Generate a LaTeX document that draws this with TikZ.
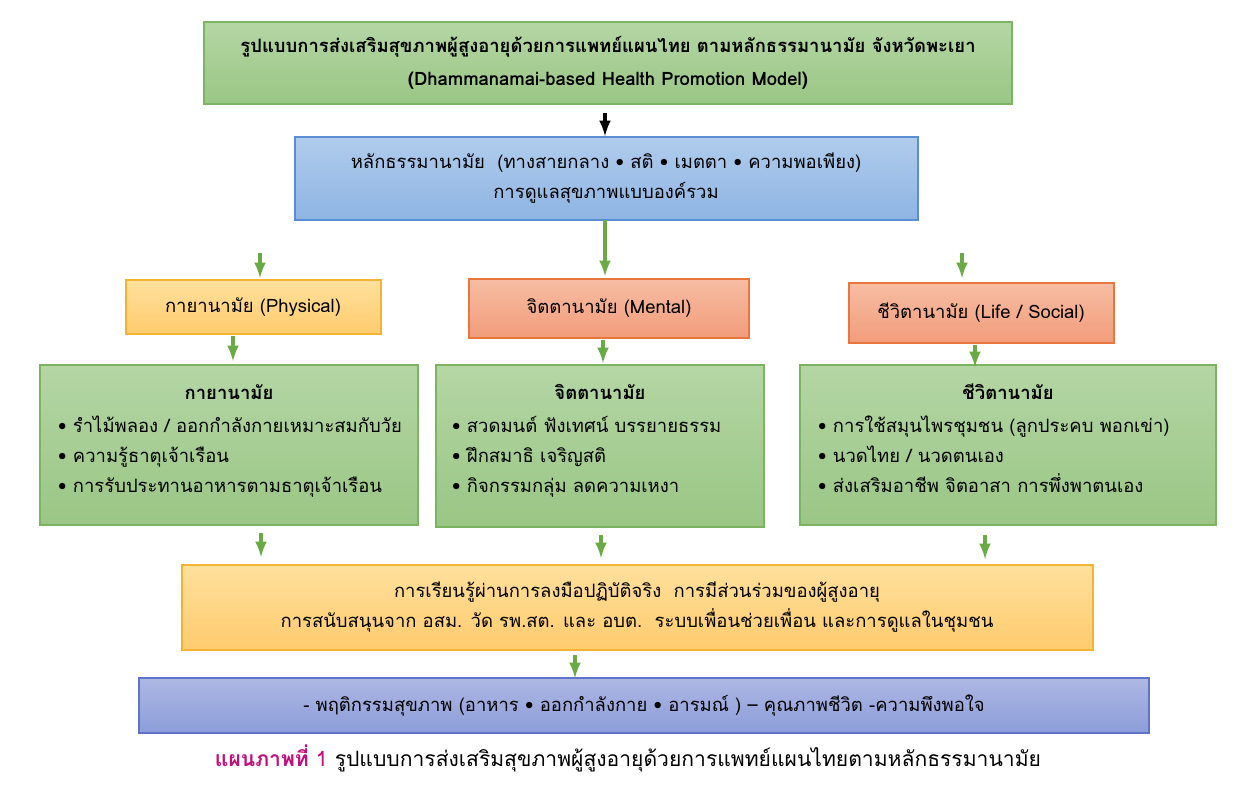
\documentclass[tikz,border=0pt]{standalone}
\usepackage{fontspec}
\setmainfont[Script=Thai]{Loma}
\definecolor{gT}{HTML}{B4D6A4}\definecolor{gB}{HTML}{9AC685}\definecolor{gD}{HTML}{7DB461}
\definecolor{bT}{HTML}{B0CCEC}\definecolor{bB}{HTML}{8EB4E3}\definecolor{bD}{HTML}{5B8CD6}
\definecolor{oT}{HTML}{FFE09C}\definecolor{oB}{HTML}{FFCB6E}\definecolor{oD}{HTML}{F5B335}
\definecolor{sT}{HTML}{F7BDA3}\definecolor{sB}{HTML}{F19C7A}\definecolor{sD}{HTML}{E8763F}
\definecolor{pT}{HTML}{ADB7E3}\definecolor{pB}{HTML}{8C9DD8}\definecolor{pD}{HTML}{5F74C8}
\definecolor{arr}{HTML}{6AAA45}
\begin{document}
\begin{tikzpicture}[x=0.02cm,y=-0.02cm,
  box/.style={draw,line width=0.6pt},
  grn/.style={box,draw=gD,top color=gT,bottom color=gB},
  blu/.style={box,draw=bD,top color=bT,bottom color=bB},
  org/.style={box,draw=oD,top color=oT,bottom color=oB},
  sal/.style={box,draw=sD,top color=sT,bottom color=sB},
  pur/.style={box,draw=pD,top color=pT,bottom color=pB},
  ga/.style={-latex,line width=2pt,draw=arr},
  t/.style={font=\fontsize{10.5}{17}\selectfont,align=center}]
\useasboundingbox (0,0) rectangle (1251,785);
\path[grn] (204,22) rectangle (1012,104); \node[t,font=\bfseries\fontsize{10.5}{19}\selectfont] (title) at (608,63) {รูปแบบการส่งเสริมสุขภาพผู้สูงอายุด้วยการแพทย์แผนไทย ตามหลักธรรมานามัย จังหวัดพะเยา\\(Dhammanamai-based Health Promotion Model)};
\path[blu] (295,137) rectangle (918,220); \node[t] (prin) at (606,178) {หลักธรรมานามัย\ \ (ทางสายกลาง • สติ • เมตตา • ความพอเพียง)\\การดูแลสุขภาพแบบองค์รวม};
\path[org] (126,280) rectangle (381,334); \node[t] (phy) at (253,307) {กายานามัย (Physical)};
\path[sal] (469,279) rectangle (749,338); \node[t] (men) at (609,308) {จิตตานามัย (Mental)};
\path[sal] (849,283) rectangle (1114,343); \node[t] (life) at (981,313) {ชีวิตานามัย (Life / Social)};
\path[grn] (40,365) rectangle (418,525);
\node[t,font=\bfseries\fontsize{10.5}{17}\selectfont] at (229,392) {กายานามัย};
\node[t,align=left,anchor=north west] (g1) at (52,410) {• รำไม้พลอง / ออกกำลังกายเหมาะสมกับวัย\\• ความรู้ธาตุเจ้าเรือน\\• การรับประทานอาหารตามธาตุเจ้าเรือน};
\path[grn] (436,365) rectangle (764,527);
\node[t,font=\bfseries\fontsize{10.5}{17}\selectfont] at (600,392) {จิตตานามัย};
\node[t,align=left,anchor=north west] (g2) at (446,410) {• สวดมนต์ ฟังเทศน์ บรรยายธรรม\\• ฝึกสมาธิ เจริญสติ\\• กิจกรรมกลุ่ม ลดความเหงา};
\path[grn] (800,365) rectangle (1216,525);
\node[t,font=\bfseries\fontsize{10.5}{17}\selectfont] at (1008,392) {ชีวิตานามัย};
\node[t,align=left,anchor=north west] (g3) at (812,410) {• การใช้สมุนไพรชุมชน (ลูกประคบ พอกเข่า)\\• นวดไทย / นวดตนเอง\\• ส่งเสริมอาชีพ จิตอาสา การพึ่งพาตนเอง};
\path[org] (182,565) rectangle (1093,650); \node[t] (learn) at (637,607) {การเรียนรู้ผ่านการลงมือปฏิบัติจริง\ \ การมีส่วนร่วมของผู้สูงอายุ\\การสนับสนุนจาก อสม. วัด รพ.สต. และ อบต.\ \ ระบบเพื่อนช่วยเพื่อน และการดูแลในชุมชน};
\path[pur] (139,678) rectangle (1149,733); \node[t] (out) at (644,706) {- พฤติกรรมสุขภาพ (อาหาร • ออกกำลังกาย • อารมณ์ ) – คุณภาพชีวิต -ความพึงพอใจ};
\node[t,font=\fontsize{12}{16}\selectfont] (cap) at (628,758) {\textcolor[HTML]{C0107A}{\textbf{แผนภาพที่} 1} รูปแบบการส่งเสริมสุขภาพผู้สูงอายุด้วยการแพทย์แผนไทยตามหลักธรรมานามัย};
\draw[-latex,line width=2pt] (605,113) -- (605,136);
\coordinate (a1) at (605,220); \coordinate (a1e) at (605,276);
\draw[ga] (a1) -- (a1e);
\foreach \x/\ya/\yb in {260/253/278, 962/253/278, 233/336/361, 603/340/363, 975/345/367, 261/533/557, 601/535/558, 985/535/559, 575/655/678}
  \draw[ga] (\x,\ya) -- (\x,\yb);
\end{tikzpicture}
\end{document}
